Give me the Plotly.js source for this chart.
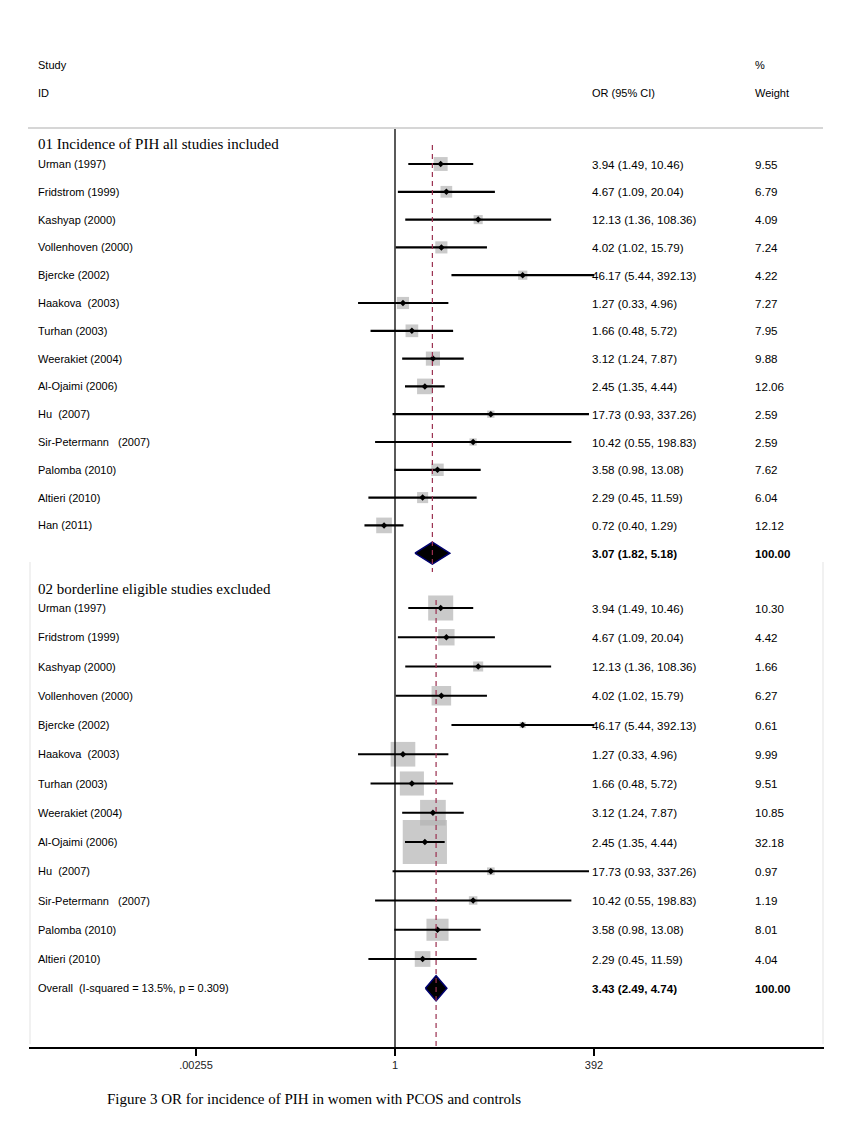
<!DOCTYPE html>
<html><head><meta charset="utf-8">
<script src="https://cdn.plot.ly/plotly-3.0.1.min.js"></script>
<style>html,body{margin:0;padding:0;background:#fff}#chart{width:848px;height:1134px}</style>
</head><body><div id="chart"></div>
<script>
// ---------- data ----------
const studies = ["Urman (1997)","Fridstrom (1999)","Kashyap (2000)","Vollenhoven (2000)","Bjercke (2002)","Haakova  (2003)","Turhan (2003)","Weerakiet (2004)","Al-Ojaimi (2006)","Hu  (2007)","Sir-Petermann   (2007)","Palomba (2010)","Altieri (2010)","Han (2011)"];
const orVals = [3.94,4.67,12.13,4.02,46.17,1.27,1.66,3.12,2.45,17.73,10.42,3.58,2.29,0.72];
const ciLow  = [1.49,1.09,1.36,1.02,5.44,0.33,0.48,1.24,1.35,0.93,0.55,0.98,0.45,0.40];
const ciHigh = [10.46,20.04,108.36,15.79,392.13,4.96,5.72,7.87,4.44,337.26,198.83,13.08,11.59,1.29];
const orLabels = ["3.94 (1.49, 10.46)","4.67 (1.09, 20.04)","12.13 (1.36, 108.36)","4.02 (1.02, 15.79)","46.17 (5.44, 392.13)","1.27 (0.33, 4.96)","1.66 (0.48, 5.72)","3.12 (1.24, 7.87)","2.45 (1.35, 4.44)","17.73 (0.93, 337.26)","10.42 (0.55, 198.83)","3.58 (0.98, 13.08)","2.29 (0.45, 11.59)","0.72 (0.40, 1.29)"];
const weights1 = [9.55,6.79,4.09,7.24,4.22,7.27,7.95,9.88,12.06,2.59,2.59,7.62,6.04,12.12];
const weights1Labels = ["9.55","6.79","4.09","7.24","4.22","7.27","7.95","9.88","12.06","2.59","2.59","7.62","6.04","12.12"];
const nStudies2 = 13; // Han (2011) excluded
const weights2 = [10.30,4.42,1.66,6.27,0.61,9.99,9.51,10.85,32.18,0.97,1.19,8.01,4.04];
const weights2Labels = ["10.30","4.42","1.66","6.27","0.61","9.99","9.51","10.85","32.18","0.97","1.19","8.01","4.04"];
const pooled1 = {est:3.07, lo:1.82, hi:5.18, label:"3.07 (1.82, 5.18)", w:"100.00"};
const pooled2 = {est:3.43, lo:2.49, hi:4.74, label:"3.43 (2.49, 4.74)", w:"100.00", name:"Overall  (I-squared = 13.5%, p = 0.309)"};
const section1Title = "01 Incidence of PIH all studies included";
const section2Title = "02 borderline eligible studies excluded";
const tickVals = [0.00255, 1, 392];
const tickText = [".00255","1","392"];
const caption = "Figure 3 OR for incidence of PIH in women with PCOS and controls";

// ---------- layout geometry ----------
const W = 848, H = 1134;
const mL = 29, mR = 24, mT = 0, mB = 87;
const plotW = W - mL - mR;
const px2paper = px => (px - mL) / plotW;
const row1 = i => 164 + i * 27.8;
const row2 = i => 608 + i * 29.25;
const yPool1 = row1(studies.length);
const yPool2 = row2(nStudies2);
const sans = '"Liberation Sans", Arial, sans-serif';
const serif = '"Liberation Serif", "Times New Roman", serif';

const traces = [];
function addSection(n, rowFn, weights, k) {
  const xs = [], ys = [], sz = [], cx = [], cy = [];
  for (let i = 0; i < n; i++) {
    xs.push(orVals[i]); ys.push(rowFn(i)); sz.push(k * Math.sqrt(weights[i]));
    cx.push(ciLow[i], ciHigh[i], null); cy.push(rowFn(i), rowFn(i), null);
  }
  traces.push({type:'scatter', mode:'markers', x:xs, y:ys, marker:{symbol:'square', size:sz, color:'#b4b4b4', line:{width:0}}, hoverinfo:'skip', showlegend:false, cliponaxis:false});
  traces.push({type:'scatter', mode:'lines', x:cx, y:cy, line:{color:'#000', width:2.2}, hoverinfo:'skip', showlegend:false});
  traces.push({type:'scatter', mode:'markers', x:xs, y:ys, marker:{symbol:'diamond', size:5, color:'#000'}, hoverinfo:'skip', showlegend:false});
}
function addDiamond(p, y, h) {
  traces.push({type:'scatter', mode:'lines', x:[p.lo, p.est, p.hi, p.est, p.lo], y:[y, y - h, y, y + h, y], fill:'toself', fillcolor:'#000', line:{color:'#000070', width:1.5}, hoverinfo:'skip', showlegend:false});
}
addSection(studies.length, row1, weights1, 4.5);
addDiamond(pooled1, yPool1, 11);
addSection(nStudies2, row2, weights2, 7.8);
addDiamond(pooled2, yPool2, 12.5);

const ann = [];
function txt(xpx, y, text, opts) {
  ann.push(Object.assign({xref:'paper', yref:'y', x:px2paper(xpx - 2), y:y, text:text, showarrow:false, xanchor:'left', yanchor:'middle', font:{family:sans, size:11, color:'#000'}}, opts || {}));
}
const numFont = {family:sans, size:11.6, color:'#000'};
txt(38, 65, "Study"); txt(38, 93, "ID");
txt(592, 93, "OR (95% CI)"); txt(755, 65, "%"); txt(755, 93, "Weight");
txt(38, 144, section1Title, {font:{family:serif, size:15, color:'#000'}});
txt(38, 589, section2Title, {font:{family:serif, size:15, color:'#000'}});
for (let i = 0; i < studies.length; i++) {
  txt(38, row1(i), studies[i]);
  txt(592, row1(i), orLabels[i], {font:numFont});
  txt(755, row1(i), weights1Labels[i], {font:numFont});
}
txt(592, yPool1, '<b>' + pooled1.label + '</b>', {font:numFont});
txt(755, yPool1, '<b>' + pooled1.w + '</b>', {font:numFont});
for (let i = 0; i < nStudies2; i++) {
  txt(38, row2(i), studies[i]);
  txt(592, row2(i), orLabels[i], {font:numFont});
  txt(755, row2(i), weights2Labels[i], {font:numFont});
}
txt(38, yPool2, pooled2.name);
txt(592, yPool2, '<b>' + pooled2.label + '</b>', {font:numFont});
txt(755, yPool2, '<b>' + pooled2.w + '</b>', {font:numFont});
ann.push({xref:'paper', yref:'paper', x:px2paper(105), y:-(1099 - 1047) / 1047, xanchor:'left', yanchor:'middle', showarrow:false, text:caption, font:{family:serif, size:15, color:'#000'}});

const shapes = [
  {type:'line', xref:'paper', yref:'y', x0:px2paper(28), x1:px2paper(823), y0:128, y1:128, line:{color:'#c8c8c8', width:1.5}},
  {type:'line', xref:'paper', yref:'y', x0:px2paper(30), x1:px2paper(30), y0:562, y1:1044, line:{color:'#ececec', width:1.5}},
  {type:'line', xref:'paper', yref:'y', x0:px2paper(823), x1:px2paper(823), y0:562, y1:1044, line:{color:'#ececec', width:1.5}},
  {type:'line', xref:'x', yref:'y', x0:1, x1:1, y0:129, y1:1047, line:{color:'#000', width:1.3}},
  {type:'line', xref:'x', yref:'y', x0:pooled1.est, x1:pooled1.est, y0:145, y1:572, line:{color:'#9b3050', width:1.2, dash:'5px,4px'}},
  {type:'line', xref:'x', yref:'y', x0:pooled2.est, x1:pooled2.est, y0:600, y1:1047, line:{color:'#9b3050', width:1.2, dash:'5px,4px'}}
];

const decade = (Math.log10(392) - Math.log10(0.00255)) / (594 - 196);
const zeroPx = 395;
const layout = {
  width: W, height: H,
  margin: {l:mL, r:mR, t:mT, b:mB, pad:0},
  paper_bgcolor:'#fff', plot_bgcolor:'#fff',
  showlegend:false,
  xaxis: {type:'log', range:[(mL - zeroPx) * decade, (W - mR - zeroPx) * decade], tickvals:tickVals, ticktext:tickText,
          ticks:'outside', ticklen:7, tickwidth:1.3, tickcolor:'#000', showline:true, linecolor:'#000', linewidth:1.5,
          showgrid:false, zeroline:false, tickfont:{family:sans, size:11, color:'#222'}, fixedrange:true},
  yaxis: {range:[1047, 0], showgrid:false, zeroline:false, showticklabels:false, showline:false, ticks:'', fixedrange:true},
  annotations: ann, shapes: shapes
};
Plotly.newPlot('chart', traces, layout, {staticPlot:true, displayModeBar:false});
</script></body></html>
